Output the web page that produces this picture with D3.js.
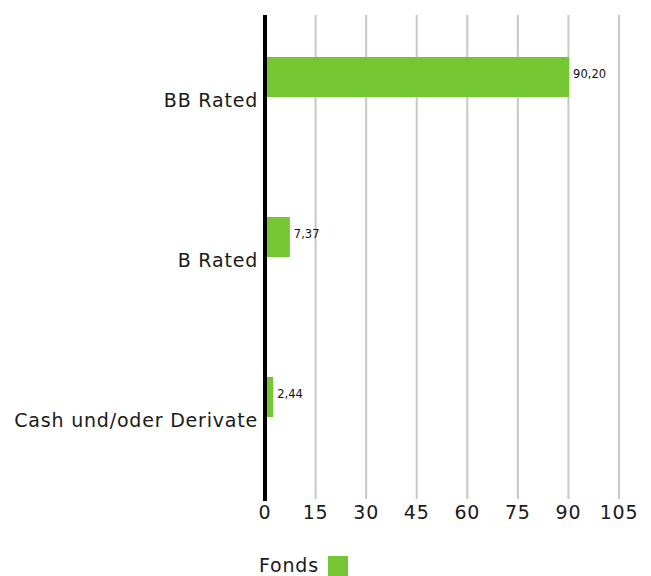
<!DOCTYPE html>
<html>
<head>
<meta charset="utf-8">
<script src="https://cdn.jsdelivr.net/npm/d3@7"></script>
<style>
  body { margin: 0; background: #fff; }
  svg text { font-family: "DejaVu Sans", sans-serif; }
</style>
</head>
<body>
<div id="chart"></div>
<script>
// chart data
const categories = ["BB Rated", "B Rated", "Cash und/oder Derivate"];
const values = [90.20, 7.37, 2.44];
const valueLabels = ["90,20", "7,37", "2,44"];
const ticks = [0, 15, 30, 45, 60, 75, 90, 105];
const seriesName = "Fonds";

const width = 651;
const height = 576;
const green = "#74c733";

const svg = d3.select("#chart")
    .append("svg")
    .attr("width", width)
    .attr("height", height);

const x = d3.scaleLinear().domain([0, 105]).range([265, 619]);
const y = d3.scaleBand().domain(categories).range([17, 497]);

// gridlines
svg.append("g")
    .selectAll("line")
    .data(ticks.filter(t => t > 0))
    .enter().append("line")
    .attr("x1", d => x(d))
    .attr("x2", d => x(d))
    .attr("y1", 15)
    .attr("y2", 499)
    .attr("stroke", "#c8c8c8")
    .attr("stroke-width", 2);

// bars
svg.append("g")
    .selectAll("rect")
    .data(values)
    .enter().append("rect")
    .attr("x", x(0))
    .attr("y", (d, i) => y(categories[i]) + 40)
    .attr("width", d => x(d) - x(0))
    .attr("height", 40)
    .attr("fill", green);

// value labels
svg.append("g")
    .selectAll("text")
    .data(values)
    .enter().append("text")
    .attr("x", d => x(d) + 4)
    .attr("y", (d, i) => y(categories[i]) + 57)
    .attr("dy", "0.35em")
    .attr("font-size", 11.5)
    .attr("fill", "#111")
    .text((d, i) => valueLabels[i]);

// zero axis line
svg.append("line")
    .attr("x1", x(0))
    .attr("x2", x(0))
    .attr("y1", 15)
    .attr("y2", 501)
    .attr("stroke", "#000")
    .attr("stroke-width", 4);

// category labels
svg.append("g")
    .selectAll("text")
    .data(categories)
    .enter().append("text")
    .attr("x", 258)
    .attr("y", d => y(d) + 83)
    .attr("dy", "0.35em")
    .attr("text-anchor", "end")
    .attr("font-size", 19)
    .attr("letter-spacing", 0.8)
    .attr("fill", "#1a1a1a")
    .text(d => d);

// x tick labels
svg.append("g")
    .selectAll("text")
    .data(ticks)
    .enter().append("text")
    .attr("x", d => x(d))
    .attr("y", 512)
    .attr("dy", "0.35em")
    .attr("text-anchor", "middle")
    .attr("font-size", 19)
    .attr("letter-spacing", 0.8)
    .attr("fill", "#1a1a1a")
    .text(d => d);

// legend
const legend = svg.append("g");
legend.append("text")
    .attr("x", 259)
    .attr("y", 565)
    .attr("dy", "0.35em")
    .attr("font-size", 19)
    .attr("letter-spacing", 0.8)
    .attr("fill", "#1a1a1a")
    .text(seriesName);
legend.append("rect")
    .attr("x", 328)
    .attr("y", 556)
    .attr("width", 20)
    .attr("height", 20)
    .attr("fill", green);
</script>
</body>
</html>
